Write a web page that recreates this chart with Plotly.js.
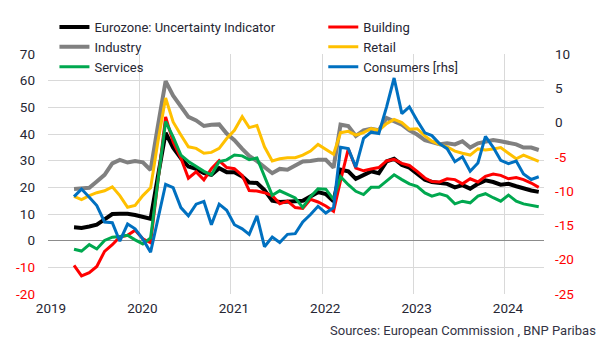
<!DOCTYPE html>
<html>
<head>
<meta charset="utf-8">
<script src="https://cdn.plot.ly/plotly-3.0.1.min.js"></script>
<style>html,body{margin:0;padding:0;background:#fff;}#chart{width:598px;height:347px;}</style>
</head>
<body>
<div id="chart"></div>
<script>
// Monthly observations, April 2019 .. May 2024
const startYear = 2019, startMonth = 4, nMonths = 62;

const eurozone = [5.0,4.8,5.3,6.0,8.0,10.0,10.1,10.1,9.6,9.0,8.2,24,40.4,34.9,30.9,27.8,26.9,25.3,24.7,27.2,25.7,25.7,24.1,21.8,21.6,19.0,15.0,14.5,14.8,14.8,15.0,16.5,18.2,17.5,14.8,26.6,26.0,23.2,24.7,26.0,25.3,29.7,30.7,28.4,27.4,25.3,22.9,22.0,21.6,21.3,20.0,20.8,19.5,21.3,22.6,22.0,21.0,21.3,20.4,19.5,18.8,18.3];
const building = [-9.3,-13.2,-12.0,-9.7,-4.0,-1.5,1.4,2.0,3.9,0.7,-0.8,22,46.4,37.0,31.0,23.4,25.8,22.8,27.0,30.0,27.4,27.0,24.5,18.8,18.6,18.0,16.9,13.8,14.8,12.4,12.1,15.5,14.5,13.0,11.0,22.5,34.4,27.2,26.2,26.9,27.4,29.9,30.5,29.0,28.2,26.0,23.5,22.2,22.0,23.2,22.9,21.3,23.2,22.0,24.1,25.0,24.5,23.2,23.7,22.9,21.6,20.0];
const industry = [19.4,19.5,19.8,22.2,24.7,29.0,30.3,29.3,29.9,29.4,26.5,43,59.8,54.4,50.4,46.4,45.1,43.0,43.5,43.6,40.2,37.7,34.4,31.8,29.8,27.5,25.3,26.9,26.6,28.2,29.7,29.9,30.3,30.3,27.4,43.5,43.0,39.3,41.4,42.0,41.4,46.0,44.7,43.5,41.4,39.8,37.7,36.8,36.2,36.5,36.1,37.3,34.9,36.5,37.1,37.7,37.3,36.8,36.1,34.9,34.9,34.0];
const retail = [16.6,15.4,16.9,18.0,18.7,20.2,16.9,12.5,13.2,16.9,19.8,37,53.5,44.5,39.6,35.2,34.6,32.8,33.1,34.6,38.3,41.4,46.5,42.4,43.2,35.2,29.9,30.7,31.1,31.1,32.1,33.6,36.1,34.4,32.4,40.5,41.0,39.6,40.5,42.0,41.4,43.9,45.5,44.3,41.8,42.0,39.3,37.3,36.0,35.2,33.6,32.8,32.1,34.4,34.0,34.4,34.9,32.8,30.7,32.1,30.9,29.7];
const services = [-3.2,-3.9,-1.5,-3.1,0.1,1.3,1.6,2.0,0.3,-1.2,1.0,23,44.7,38.9,32.1,29.7,27.8,26.0,24.7,29.7,30.3,32.1,31.8,30.4,31.0,24.0,17.0,18.7,17.5,16.0,12.5,16.5,19.5,19.3,15.5,24.0,21.0,18.5,17.3,20.0,20.0,22.5,24.7,22.9,21.3,20.4,17.9,16.7,17.6,16.7,13.8,14.8,14.2,16.7,17.6,16.1,14.8,17.1,14.8,13.8,13.3,12.7];
const consumers = [-10.8,-9.7,-10.9,-12.1,-14.5,-14.6,-17.3,-14.8,-15.5,-17.0,-18.9,-14,-9.0,-9.5,-12.4,-13.6,-11.9,-11.5,-14.9,-11.9,-12.8,-14.9,-15.5,-16.3,-13.6,-18.1,-16.7,-17.5,-16.3,-16.2,-14.5,-13.4,-12.2,-13.2,-12.4,-3.6,-3.8,-6.5,-2.3,-1.4,-1.6,2.3,6.5,1.3,2.3,0.3,-1.5,-1.9,-3.1,-3.8,-5.7,-5.0,-7.1,-5.9,-2.0,-3.6,-5.5,-6.0,-5.6,-7.5,-8.3,-7.9];

const yearTicks = ['2019','2020','2021','2022','2023','2024'];
const leftTicks = [-20,-10,0,10,20,30,40,50,60,70];
const rightTicks = [-25,-20,-15,-10,-5,0,5,10];

const dates = [];
for (let k = 0; k < nMonths; k++) {
  const m0 = startMonth - 1 + k;
  const y = startYear + Math.floor(m0 / 12);
  const m = (m0 % 12) + 1;
  dates.push(y + '-' + String(m).padStart(2, '0') + '-15');
}

const FONT = 'Roboto, "Open Sans", sans-serif';
const TXT = '#262633';
const NEG = '#ff0000';
const lbl = v => v < 0 ? '<span style="color:' + NEG + '">' + v + '</span>' : String(v);

function tr(name, y, color, width, legend, yaxis) {
  return {x: dates, y: y, name: name, type: 'scatter', mode: 'lines',
          line: {color: color, width: width}, legend: legend, yaxis: yaxis || 'y'};
}

const data = [
  tr('Eurozone: Uncertainty Indicator', eurozone, '#000000', 4, 'legend'),
  tr('Building', building, '#ff0000', 3, 'legend2'),
  tr('Industry', industry, '#808080', 4, 'legend'),
  tr('Retail', retail, '#ffc000', 3, 'legend2'),
  tr('Services', services, '#00a84f', 3, 'legend'),
  tr('Consumers [rhs]', consumers, '#0070c0', 3, 'legend2', 'y2')
];

const legendCommon = {
  orientation: 'v', bgcolor: 'rgba(0,0,0,0)', borderwidth: 0,
  font: {family: FONT, size: 13, color: TXT}, yanchor: 'top', xanchor: 'left',
  tracegroupgap: 0, itemwidth: 30
};

const layout = {
  width: 598, height: 347,
  margin: {l: 48, r: 54, t: 52, b: 53, pad: 0},
  paper_bgcolor: '#ffffff', plot_bgcolor: '#ffffff',
  font: {family: FONT, size: 13, color: TXT},
  showlegend: true,
  legend: Object.assign({}, legendCommon, {x: 0.013, y: 1.175}),
  legend2: Object.assign({}, legendCommon, {x: 0.555, y: 1.175}),
  xaxis: {
    type: 'date', range: ['2019-01-01', '2024-06-05'],
    tickvals: yearTicks.map(y => y + '-01-01'), ticktext: yearTicks,
    showgrid: true, gridcolor: '#d9d9d9', gridwidth: 1,
    zeroline: false, showline: false, ticks: '',
    tickfont: {family: FONT, size: 13.5, color: TXT}, ticklabelshift: 3,
    ticklabelstandoff: 4
  },
  yaxis: {
    range: [-20, 70], tickvals: leftTicks, ticktext: leftTicks.map(lbl),
    showgrid: true, gridcolor: '#d9d9d9', gridwidth: 1,
    zeroline: true, zerolinecolor: '#8c8c8c', zerolinewidth: 1,
    showline: false, ticks: '', tickfont: {family: FONT, size: 13.5, color: TXT},
    ticklabelstandoff: 12
  },
  yaxis2: {
    range: [-25, 10], tickvals: rightTicks, ticktext: rightTicks.map(lbl),
    overlaying: 'y', side: 'right', showgrid: false, zeroline: false,
    showline: false, ticks: '', tickfont: {family: FONT, size: 13.5, color: TXT},
    ticklabelstandoff: 10
  },
  annotations: [{
    xref: 'paper', yref: 'paper', x: 1.109, y: -0.111, xanchor: 'right', yanchor: 'top',
    text: 'Sources: European Commission , BNP Paribas', showarrow: false,
    font: {family: FONT, size: 13, color: '#333344'}
  }]
};

Plotly.newPlot('chart', data, layout, {staticPlot: true, displayModeBar: false});
</script>
</body>
</html>
